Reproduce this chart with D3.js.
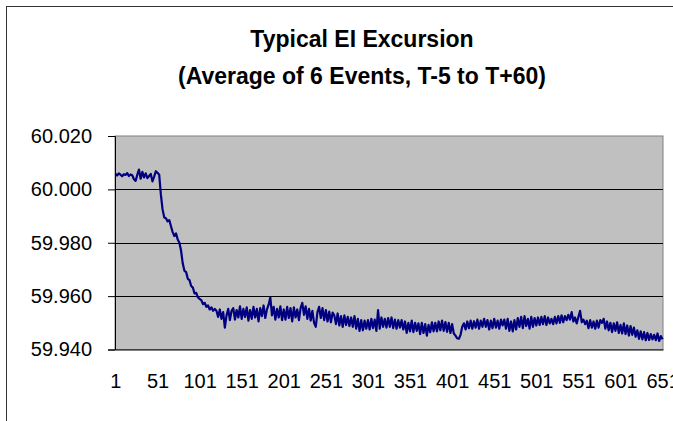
<!DOCTYPE html>
<html>
<head>
<meta charset="utf-8">
<script src="https://cdn.jsdelivr.net/npm/d3@7"></script>
<style>
  body { margin: 0; background: #fff; }
  svg text { font-family: "Liberation Sans", Arial, sans-serif; fill: #000; }
</style>
</head>
<body>
<div id="chart"></div>
<script>
// title lines
const titleLines = ["Typical EI Excursion", "(Average of 6 Events, T-5 to T+60)"];

// y ticks and x tick labels (category numbers)
const yTicks = [59.940, 59.960, 59.980, 60.000, 60.020];
const xTicks = [1, 51, 101, 151, 201, 251, 301, 351, 401, 451, 501, 551, 601, 651];
const nCategories = 651;

// sample numbers (every second sample)
const sampleIdx = d3.range(1, 652, 2);

// frequency, one per sampleIdx
const freq = [
  60.0058, 60.0052, 60.0060, 60.0055, 60.0049, 60.0057, 60.0054, 60.0061, 60.0050, 60.0056,
  60.0053, 60.0038, 60.0032, 60.0055, 60.0074, 60.0040, 60.0066, 60.0045, 60.0060, 60.0042,
  60.0050, 60.0058, 60.0030, 60.0048, 60.0068, 60.0062, 60.0055, 59.9980, 59.9925, 59.9895,
  59.9892, 59.9880, 59.9885, 59.9862, 59.9840, 59.9825, 59.9835, 59.9812, 59.9800, 59.9770,
  59.9722, 59.9695, 59.9690, 59.9665, 59.9660, 59.9638, 59.9632, 59.9610, 59.9612, 59.9595,
  59.9590, 59.9585, 59.9570, 59.9575, 59.9560, 59.9565, 59.9550, 59.9558, 59.9545, 59.9552,
  59.9545, 59.9522, 59.9550, 59.9515, 59.9540, 59.9482, 59.9528, 59.9552, 59.9510, 59.9545,
  59.9555, 59.9512, 59.9548, 59.9520, 59.9562, 59.9515, 59.9552, 59.9522, 59.9558, 59.9508,
  59.9548, 59.9515, 59.9560, 59.9520, 59.9552, 59.9505, 59.9555, 59.9525, 59.9565, 59.9518,
  59.9550, 59.9568, 59.9595, 59.9528, 59.9560, 59.9512, 59.9552, 59.9520, 59.9562, 59.9510,
  59.9550, 59.9512, 59.9560, 59.9518, 59.9555, 59.9505, 59.9558, 59.9520, 59.9550, 59.9510,
  59.9555, 59.9575, 59.9530, 59.9562, 59.9515, 59.9552, 59.9508, 59.9545, 59.9500, 59.9485,
  59.9540, 59.9560, 59.9518, 59.9555, 59.9510, 59.9548, 59.9505, 59.9542, 59.9502, 59.9538,
  59.9528, 59.9495, 59.9535, 59.9490, 59.9525, 59.9485, 59.9528, 59.9492, 59.9522, 59.9488,
  59.9520, 59.9485, 59.9525, 59.9478, 59.9515, 59.9470, 59.9510, 59.9472, 59.9508, 59.9478,
  59.9510, 59.9475, 59.9515, 59.9480, 59.9512, 59.9470, 59.9548, 59.9478, 59.9520, 59.9485,
  59.9515, 59.9482, 59.9518, 59.9485, 59.9520, 59.9480, 59.9512, 59.9478, 59.9510, 59.9482,
  59.9510, 59.9475, 59.9505, 59.9462, 59.9500, 59.9468, 59.9508, 59.9465, 59.9500, 59.9470,
  59.9498, 59.9458, 59.9500, 59.9462, 59.9495, 59.9452, 59.9492, 59.9465, 59.9502, 59.9468,
  59.9500, 59.9468, 59.9505, 59.9472, 59.9508, 59.9470, 59.9503, 59.9466, 59.9500, 59.9462,
  59.9495, 59.9460, 59.9452, 59.9442, 59.9440, 59.9455, 59.9485, 59.9498, 59.9475, 59.9505,
  59.9480, 59.9508, 59.9478, 59.9506, 59.9482, 59.9512, 59.9478, 59.9508, 59.9485, 59.9515,
  59.9485, 59.9510, 59.9475, 59.9508, 59.9480, 59.9515, 59.9482, 59.9508, 59.9478, 59.9512,
  59.9490, 59.9512, 59.9478, 59.9515, 59.9470, 59.9505, 59.9468, 59.9510, 59.9475, 59.9518,
  59.9485, 59.9522, 59.9480, 59.9525, 59.9488, 59.9515, 59.9478, 59.9522, 59.9485, 59.9518,
  59.9490, 59.9520, 59.9492, 59.9522, 59.9495, 59.9525, 59.9492, 59.9520, 59.9498, 59.9515,
  59.9495, 59.9522, 59.9498, 59.9525, 59.9500, 59.9528, 59.9502, 59.9525, 59.9510, 59.9530,
  59.9512, 59.9540, 59.9505, 59.9520, 59.9498, 59.9522, 59.9545, 59.9502, 59.9512, 59.9495,
  59.9508, 59.9480, 59.9510, 59.9482, 59.9505, 59.9478, 59.9508, 59.9482, 59.9510, 59.9500,
  59.9515, 59.9478, 59.9505, 59.9472, 59.9500, 59.9465, 59.9498, 59.9470, 59.9502, 59.9462,
  59.9492, 59.9460, 59.9498, 59.9458, 59.9490, 59.9452, 59.9488, 59.9455, 59.9482, 59.9448,
  59.9472, 59.9440, 59.9468, 59.9438, 59.9465, 59.9435, 59.9462, 59.9436, 59.9458, 59.9438,
  59.9455, 59.9435, 59.9460, 59.9432, 59.9450, 59.9438
];

const width = 673, height = 421;
const plot = { left: 115, right: 663, top: 136, bottom: 349.5 };

const svg = d3.select("#chart").append("svg")
  .attr("width", width)
  .attr("height", height);

// chart area frame (runs off the right and bottom of the picture)
svg.append("rect")
  .attr("x", 6.5).attr("y", 6.5)
  .attr("width", 720).attr("height", 440)
  .attr("fill", "#fff")
  .attr("stroke", "#333");

// scales
const x = d3.scaleLinear()
  .domain([0.5, nCategories + 0.5])
  .range([plot.left, plot.right]);

const y = d3.scaleLinear()
  .domain([59.940, 60.020])
  .range([plot.bottom, plot.top]);

// plot area
svg.append("rect")
  .attr("x", plot.left).attr("y", plot.top)
  .attr("width", plot.right - plot.left)
  .attr("height", plot.bottom - plot.top)
  .attr("fill", "#c0c0c0")
  .attr("stroke", "#808080");

// gridlines
svg.append("g")
  .selectAll("line")
  .data(yTicks.slice(1, -1))
  .join("line")
  .attr("x1", plot.left).attr("x2", plot.right)
  .attr("y1", d => Math.round(y(d)) + 0.5)
  .attr("y2", d => Math.round(y(d)) + 0.5)
  .attr("stroke", "#000");

// y axis
const yAxis = svg.append("g")
  .attr("transform", `translate(${plot.left},0)`)
  .call(d3.axisLeft(y).tickValues(yTicks).tickFormat(d3.format(".3f")).tickSize(7).tickPadding(16));
yAxis.selectAll("text").style("font-size", "20px");
yAxis.select(".domain").attr("stroke", "#000");

// x axis (category numbers, no tick marks)
const xAxis = svg.append("g")
  .attr("transform", `translate(0,${plot.bottom})`)
  .call(d3.axisBottom(x).tickValues(xTicks).tickFormat(d3.format("d")).tickSize(0).tickPadding(24));
xAxis.selectAll("text").style("font-size", "20px");
xAxis.select(".domain").attr("stroke", "#000");

// the series
const line = d3.line()
  .x((d, i) => x(sampleIdx[i]))
  .y(d => y(d));

svg.append("path")
  .datum(freq)
  .attr("d", line)
  .attr("fill", "none")
  .attr("stroke", "#000080")
  .attr("stroke-width", 2.2)
  .attr("stroke-linejoin", "round");

// title
svg.append("g")
  .selectAll("text")
  .data(titleLines)
  .join("text")
  .attr("x", 362)
  .attr("y", (d, i) => 47 + i * 37)
  .attr("text-anchor", "middle")
  .style("font-size", "23px")
  .style("font-weight", "bold")
  .text(d => d);
</script>
</body>
</html>
